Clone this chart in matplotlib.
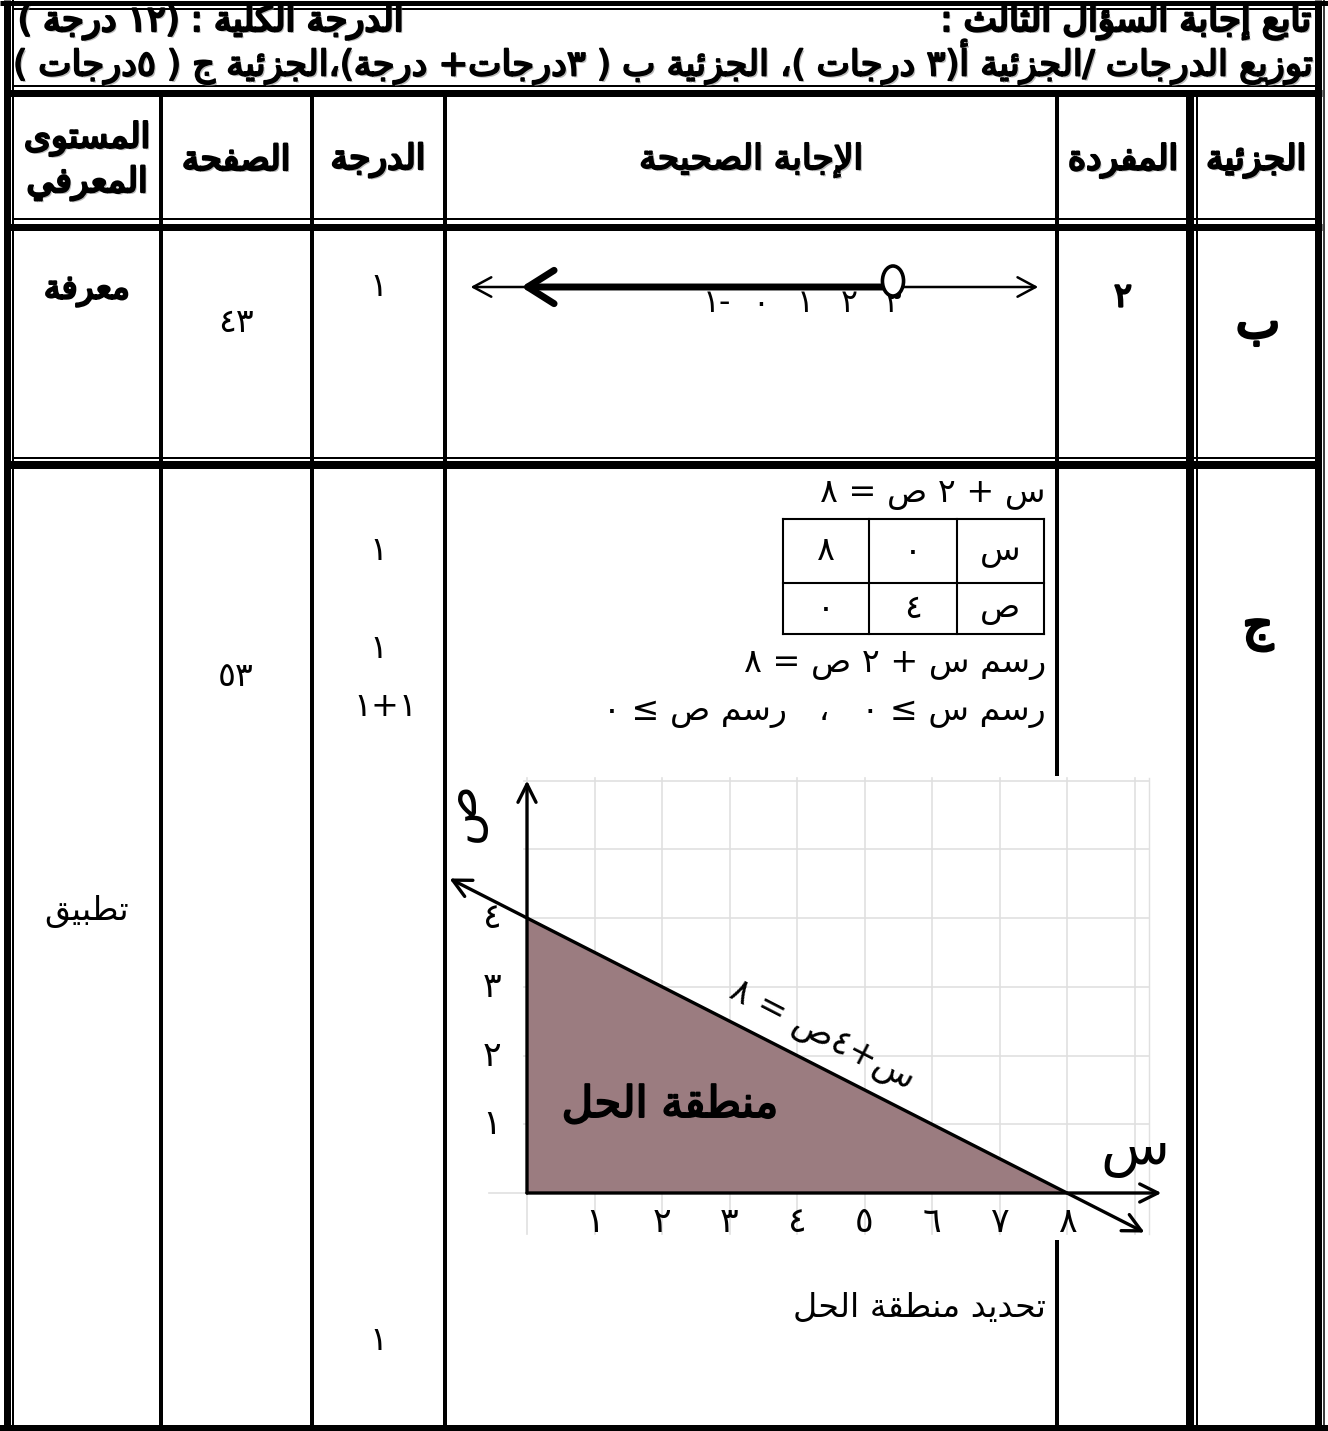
import matplotlib
matplotlib.use('Agg')
import matplotlib.pyplot as plt
import matplotlib.patheffects as pe
from matplotlib.patches import Ellipse, FancyArrowPatch

plt.rcParams['font.family'] = ['DejaVu Sans']

# ---------------- data ----------------
title_right = 'تابع إجابة السؤال الثالث :'
title_left = 'الدرجة الكلية : (١٢ درجة )'
title_line2 = 'توزيع الدرجات /الجزئية أ(٣ درجات )، الجزئية ب ( ٣درجات+ درجة)،الجزئية ج ( ٥درجات )'
col_heads = ['المستوى', 'الصفحة', 'الدرجة', 'الإجابة الصحيحة', 'المفردة', 'الجزئية']
col_heads_2 = 'المعرفي'

# row b
part_b = 'ب'
item_b = '٢'
grade_b = '١'
page_b = 43
level_b = 'معرفة'
nl_ticks = [-1, 0, 1, 2, 3]
nl_open_point = 3

# row c
part_c = 'ج'
page_c = 53
level_c = 'تطبيق'
grades_c = ['١', '١', '١+١', '١']
eq_text = 'س + ٢ ص = ٨'
tab_x = [0, 8]
tab_y = [4, 0]
step1 = 'رسم س + ٢ ص = ٨'
step2 = 'رسم س ≥ ٠   ،   رسم ص ≥ ٠'
step3 = 'تحديد منطقة الحل'
line_a, line_b, line_c = 1, 2, 8       # x + 2y = 8
region_x = [0, 0, 8]
region_y = [0, 4, 0]
gx_ticks = [1, 2, 3, 4, 5, 6, 7, 8]
gy_ticks = [1, 2, 3, 4]
line_label = 'س+٤ص = ٨'
region_label = 'منطقة الحل'

# ---------------- simple arabic shaping ----------------
LETTERS = {
    'آ': (0xFE81, False), 'أ': (0xFE83, False), 'ؤ': (0xFE85, False),
    'إ': (0xFE87, False), 'ئ': (0xFE89, True), 'ا': (0xFE8D, False),
    'ب': (0xFE8F, True), 'ة': (0xFE93, False), 'ت': (0xFE95, True),
    'ث': (0xFE99, True), 'ج': (0xFE9D, True), 'ح': (0xFEA1, True),
    'خ': (0xFEA5, True), 'د': (0xFEA9, False), 'ذ': (0xFEAB, False),
    'ر': (0xFEAD, False), 'ز': (0xFEAF, False), 'س': (0xFEB1, True),
    'ش': (0xFEB5, True), 'ص': (0xFEB9, True), 'ض': (0xFEBD, True),
    'ط': (0xFEC1, True), 'ظ': (0xFEC5, True), 'ع': (0xFEC9, True),
    'غ': (0xFECD, True), 'ف': (0xFED1, True), 'ق': (0xFED5, True),
    'ك': (0xFED9, True), 'ل': (0xFEDD, True), 'م': (0xFEE1, True),
    'ن': (0xFEE5, True), 'ه': (0xFEE9, True), 'و': (0xFEED, False),
    'ى': (0xFEEF, False), 'ي': (0xFEF1, True),
}
LAMALEF = {'آ': 0xFEF5, 'أ': 0xFEF7, 'إ': 0xFEF9, 'ا': 0xFEFB}
MIRROR = {'(': ')', ')': '(', '≤': '≥', '≥': '≤'}


def shape(s):
    items = []
    i = 0
    while i < len(s):
        if s[i] == 'ل' and i + 1 < len(s) and s[i + 1] in LAMALEF:
            items.append(('LA', s[i + 1]))
            i += 2
        else:
            items.append((s[i], None))
            i += 1

    def is_letter(it):
        return it[0] == 'LA' or it[0] in LETTERS

    def joins_next(it):
        return it[0] != 'LA' and it[0] in LETTERS and LETTERS[it[0]][1]

    out = []
    for k, it in enumerate(items):
        pj = k > 0 and joins_next(items[k - 1]) and is_letter(it)
        nj = k + 1 < len(items) and joins_next(it) and is_letter(items[k + 1])
        if it[0] == 'LA':
            out.append(chr(LAMALEF[it[1]] + (1 if pj else 0)))
        elif it[0] in LETTERS:
            base = LETTERS[it[0]][0]
            off = 3 if (pj and nj) else 1 if pj else 2 if nj else 0
            out.append(chr(base + off))
        else:
            out.append(it[0])
    return out


def ar(s):
    # shape, then lay out right-to-left (digit runs stay left-to-right)
    g = shape(s)
    runs = []
    for ch in g:
        d = ch.isdigit()
        if runs and runs[-1][0] == d:
            runs[-1][1].append(ch)
        else:
            runs.append([d, [ch]])
    res = ''
    for d, chs in reversed(runs):
        if d:
            res += ''.join(chs)
        else:
            res += ''.join(MIRROR.get(c, c) for c in reversed(chs))
    return res


def ind(n):
    return ar(str(n).translate(str.maketrans('0123456789', '٠١٢٣٤٥٦٧٨٩')))


# ---------------- figure ----------------
W, H = 1328, 1431
fig = plt.figure(figsize=(W / 100, H / 100), dpi=100)
ax = fig.add_axes([0, 0, 1, 1])
ax.set_xlim(0, W)
ax.set_ylim(H, 0)
ax.set_axis_off()
r = fig.canvas.get_renderer()


def hl(y, x0, x1, px):
    ax.plot([x0, x1], [y, y], color='black', lw=px * 0.72, solid_capstyle='butt')


def vl(x, y0, y1, px, c='black'):
    ax.plot([x, x], [y0, y1], color=c, lw=px * 0.72, solid_capstyle='butt')


def txt(x, y, s, size, ha='center', bold=False, a=None, shadow=False, **kw):
    a = a or ax
    t = a.text(x, y, s, fontsize=size, ha=ha, va='center', color='black', **kw)
    eff = []
    if shadow:
        eff.append(pe.SimplePatchShadow(offset=(1.4, -1.4), shadow_rgbFace='#909090', alpha=0.6))
    if bold:
        eff.append(pe.Stroke(linewidth=size * 0.07, foreground='black'))
        eff.append(pe.Normal())
    if eff:
        t.set_path_effects(eff)
    return t


def fit(t, width):
    w = t.get_window_extent(r).width
    t.set_fontsize(t.get_fontsize() * width / w)
    return t.get_fontsize()


# frame and table lines
hl(2.5, 0, W, 5)
hl(9, 13, 1316, 2)
vl(6.5, 0, H, 7)
vl(12.5, 0, H, 2)
vl(1317.5, 0, H, 7)
vl(1323.5, 0, H, 1.5)
hl(86, 13, 1316, 2)
hl(93, 7, 1322, 7)
hl(219, 13, 1316, 2)
hl(226.5, 7, 1322, 7)
hl(458, 13, 1316, 2)
hl(465, 7, 1322, 8)
hl(1428, 0, W, 6)
for xc in [161, 312, 445, 1057]:
    vl(xc, 97, H, 4)
vl(1190, 97, H, 8)
vl(1197, 97, H, 2)

col_cx = [87, 236, 378, 751, 1123, 1256]

# header
t2 = txt(664, 62, ar(title_line2), 20, bold=True, shadow=True)
hs = fit(t2, 1300)
txt(1312, 22, ar(title_right), hs, ha='right', bold=True, shadow=True)
txt(18, 22, ar(title_left), hs, ha='left', bold=True, shadow=True)

# column headers
th = txt(col_cx[3], 160, ar(col_heads[3]), 20, bold=True, shadow=True)
cs = fit(th, 224)
for i, h in enumerate(col_heads):
    if i == 3:
        continue
    yy = 138 if i == 0 else 160
    txt(col_cx[i], yy, ar(h), cs, bold=True, shadow=True)
txt(col_cx[0], 183, ar(col_heads_2), cs, bold=True, shadow=True)

# answer text size
ts = txt(1046, 663, ar(step1), 18, ha='right')
rs = fit(ts, 302)

# row b
txt(col_cx[0], 290, ar(level_b), rs, bold=True)
txt(col_cx[1], 322, ind(page_b), rs)
txt(378, 287, grade_b, rs)
txt(col_cx[4], 297, item_b, rs, bold=True)
txt(1258, 325, ar(part_b), rs * 1.4, bold=True)

# number line
nx0, nx1, ny0, ny1 = 447, 1055, 255, 320
ax_n = fig.add_axes([nx0 / W, 1 - ny1 / H, (nx1 - nx0) / W, (ny1 - ny0) / H])
ax_n.set_xlim((nx0 - 761) / 44, (nx1 - 761) / 44)
ax_n.set_ylim(287 - ny1, 287 - ny0)
ax_n.set_axis_off()
ax_n.annotate('', xy=(6.3, 0), xytext=(-6.6, 0), annotation_clip=False,
              arrowprops=dict(arrowstyle='<->,head_length=1.3,head_width=0.7',
                              lw=1.8, color='black', shrinkA=0, shrinkB=0))
ax_n.add_patch(FancyArrowPatch((nl_open_point - 0.2, 0), (-5.45, 0),
                               arrowstyle='->,head_length=0.95,head_width=0.6',
                               mutation_scale=20, lw=5.0, color='black',
                               shrinkA=0, shrinkB=0))
ax_n.add_patch(Ellipse((nl_open_point, 6), 0.48, 30, fill=True, fc='white',
                       ec='black', lw=2.6, zorder=5))
for v in nl_ticks:
    ax_n.text(v, -17, ar('-' + ind(abs(v))) if v < 0 else ind(v), fontsize=rs * 0.95,
              ha='center', va='center')

# row c
txt(1258, 628, ar(part_c), rs * 1.4, bold=True)
txt(col_cx[0], 912, ar(level_c), rs)
txt(col_cx[1], 677, ind(page_c), rs)
for g, yy in zip(grades_c, [550, 648, 707, 1340]):
    txt(378 if g == '١' else 385, yy, ar(g), rs)
txt(1046, 493, ar(eq_text), rs, ha='right')
txt(1046, 712, ar(step2), rs, ha='right')
txt(1046, 1308, ar(step3), rs, ha='right')

# small table of values
tx = [783, 869, 957, 1044]
ty = [519, 583, 634]
for xx in tx:
    ax.plot([xx, xx], [ty[0], ty[-1]], color='black', lw=1.5)
for yy in ty:
    ax.plot([tx[0], tx[-1]], [yy, yy], color='black', lw=1.5)
row1 = [ind(v) for v in reversed(tab_x)] + [ar('س')]
row2 = [ind(v) for v in reversed(tab_y)] + [ar('ص')]
for j in range(3):
    cx = (tx[j] + tx[j + 1]) / 2
    txt(cx, (ty[0] + ty[1]) / 2, row1[j], rs)
    txt(cx, (ty[1] + ty[2]) / 2, row2[j], rs)

# graph
gx0, gx1, gy0, gy1 = 447, 1168, 776, 1240
ux, uy, ox, oy = 67.5, 68.75, 527, 1193
ag = fig.add_axes([gx0 / W, 1 - gy1 / H, (gx1 - gx0) / W, (gy1 - gy0) / H])
ag.set_xlim((gx0 - ox) / ux, (gx1 - ox) / ux)
ag.set_ylim((oy - gy1) / uy, (oy - gy0) / uy)
ag.set_facecolor('white')
for s in ag.spines.values():
    s.set_visible(False)
ag.set_xticks([])
ag.set_yticks([])

gc = '#e0e0e0'
for v in range(0, 10):
    ag.plot([v, v], [-0.6, 6.03], color=gc, lw=1.2, zorder=1)
ag.plot([9.22, 9.22], [-0.6, 6.03], color=gc, lw=1.0, zorder=1)
for v in range(1, 7):
    ag.plot([-0.05, 9.22], [v, v], color=gc, lw=1.2, zorder=1)
ag.plot([-0.57, 9.22], [0, 0], color=gc, lw=1.2, zorder=1)

ag.fill(region_x, region_y, color='#9b7c80', zorder=2)

arrow_kw = dict(lw=2.4, color='black', shrinkA=0, shrinkB=0)
ag.annotate('', xy=(0, 6.0), xytext=(0, 0), annotation_clip=False,
            arrowprops=dict(arrowstyle='->,head_length=1.3,head_width=0.65', **arrow_kw), zorder=4)
ag.annotate('', xy=(9.4, 0), xytext=(0, 0), annotation_clip=False,
            arrowprops=dict(arrowstyle='->,head_length=1.3,head_width=0.65', **arrow_kw), zorder=4)
lx = [-1.15, 9.15]
ly = [(line_c - line_a * v) / line_b for v in lx]
ag.annotate('', xy=(lx[1], ly[1]), xytext=(lx[0], ly[0]), annotation_clip=False,
            arrowprops=dict(arrowstyle='<->,head_length=1.3,head_width=0.65', **arrow_kw), zorder=4)

for v in gx_ticks:
    ag.text(v, -0.42, ind(v), fontsize=rs * 1.05, ha='center', va='center', zorder=5)
for v in gy_ticks:
    ag.text(-0.52, v, ind(v), fontsize=rs * 1.05, ha='center', va='center', zorder=5)

ag.text(-0.96, 5.55, ar('ص'), fontsize=rs * 1.5, rotation=90, ha='center', va='center')
ag.text(9.0, 0.62, ar('س'), fontsize=rs * 1.7, ha='center', va='center')

tr = txt(2.12, 1.28, ar(region_label), 20, bold=True, a=ag)
fit(tr, 217)
ag.text(4.37, 2.30, ar(line_label), fontsize=rs * 1.05, rotation=-27.2,
        rotation_mode='anchor', ha='center', va='center')

fig.savefig('out.png', dpi=100)
